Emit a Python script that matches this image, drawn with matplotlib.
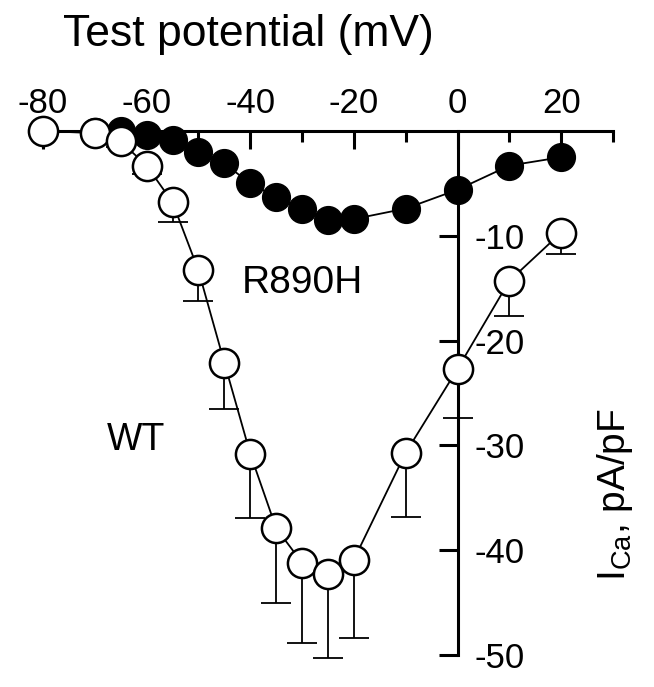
import numpy as np
import matplotlib
matplotlib.use("Agg")
import matplotlib.pyplot as plt
from matplotlib.ticker import FixedLocator

plt.rcParams['font.family'] = ['Liberation Sans', 'DejaVu Sans']
plt.rcParams['mathtext.fontset'] = 'custom'
plt.rcParams['mathtext.rm'] = 'Liberation Sans'
plt.rcParams['axes.unicode_minus'] = False

# test potentials (mV)
volts = [-80, -70, -65, -60, -55, -50, -45, -40, -35, -30, -25, -20, -10, 0, 10, 20]

# WT current density (pA/pF) and lower error (SEM)
wt_mean = [0, -0.2, -1.0, -3.3, -6.8, -13.3, -22.1, -30.8, -37.9, -41.2, -42.3, -40.9, -30.7, -22.7, -14.3, -9.7]
wt_err = [0.3, 0.3, 0.5, 0.8, 1.9, 2.9, 4.4, 6.1, 7.1, 7.7, 8.0, 7.5, 6.1, 4.7, 3.4, 2.0]

# R890H current density (pA/pF)
r890h_mean = [0, -0.1, 0, -0.4, -0.9, -2.0, -3.1, -5.0, -6.3, -7.4, -8.5, -8.4, -7.4, -5.6, -3.3, -2.5]

x_major = [-80, -60, -40, -20, 0, 20]
y_major = [-10, -20, -30, -40, -50]

fig = plt.figure(figsize=(6.54, 6.87), dpi=100)
ax = fig.add_axes([0.0657, 0.0466, 0.8716, 0.7627])

# R890H filled
ax.plot(volts, r890h_mean, color='black', lw=1.3, marker='o', ms=20,
        mfc='black', mec='black', clip_on=False, zorder=3)

# WT open, error bars drawn downward only
err = [wt_err, np.zeros(len(wt_err))]
ax.errorbar(volts, wt_mean, yerr=err, fmt='none', ecolor='black',
            elinewidth=1.3, capsize=11, capthick=1.3, clip_on=False, zorder=2)
ax.plot(volts, wt_mean, color='black', lw=1.3, marker='o', ms=21,
        mfc='white', mec='black', mew=1.8, clip_on=False, zorder=4)

ax.set_xlim(-80, 30)
ax.set_ylim(-50, 0)

for s in ['left', 'bottom']:
    ax.spines[s].set_visible(False)
ax.spines['top'].set_position(('data', 0))
ax.spines['right'].set_position(('data', 0))
ax.spines['top'].set_linewidth(2.2)
ax.spines['right'].set_linewidth(2.2)
ax.spines['right'].set_bounds(-50, 0)

ax.xaxis.set_ticks_position('top')
ax.set_xticks(x_major)
ax.xaxis.set_minor_locator(FixedLocator([-70, -50, -30, -10, 10, 30]))
ax.tick_params(axis='x', which='major', direction='in', length=13, width=2.2,
               labelsize=25, pad=8)
ax.tick_params(axis='x', which='minor', direction='in', length=8, width=2.2)

ax.yaxis.set_ticks_position('right')
ax.set_yticks(y_major)
ax.set_yticklabels([str(v) for v in y_major])
ax.tick_params(axis='y', direction='in', length=14, width=2.2, labelsize=25, pad=12)

ax.text(-30, -14.5, 'R890H', fontsize=28, ha='center', va='center')
ax.text(-62, -29.5, 'WT', fontsize=27, ha='center', va='center')

fig.text(0.38, 0.95, 'Test potential (mV)', fontsize=32, ha='center', va='center')
fig.text(0.94, 0.28, r'I$_{\mathrm{Ca}}$, pA/pF', fontsize=28, rotation=90,
         ha='center', va='center')

fig.savefig('out.png', dpi=100)
